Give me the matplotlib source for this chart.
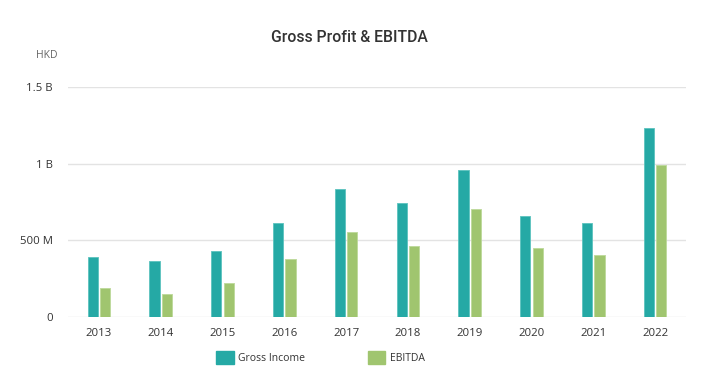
import numpy as np
import matplotlib
matplotlib.use("Agg")
import matplotlib.pyplot as plt
from matplotlib.patches import Patch
from matplotlib.ticker import FuncFormatter

years = ["2013", "2014", "2015", "2016", "2017", "2018", "2019", "2020", "2021", "2022"]
gross_income = [393e6, 367e6, 428e6, 611e6, 834e6, 745e6, 961e6, 662e6, 616e6, 1231e6]
ebitda = [192e6, 153e6, 225e6, 376e6, 557e6, 465e6, 703e6, 452e6, 404e6, 993e6]
yticks = [0, 500e6, 1000e6, 1500e6]

TEAL = "#25a9a5"
GREEN = "#a0c56f"
TEXT = "#333333"

plt.rcParams["font.family"] = ["Open Sans", "DejaVu Sans"]


def fmt_hkd(v, pos):
    if v == 0:
        return "0"
    if v >= 1e9:
        return "%g B" % (v / 1e9)
    return "%g M" % (v / 1e6)


def main():
    fig = plt.figure(figsize=(7.04, 3.81), dpi=100)
    ax = fig.add_axes([68 / 704, 1 - 317 / 381, (686 - 68) / 704, (317 - 87.3) / 381])

    x = np.arange(len(years))
    width = 0.167
    ax.bar(x - 0.1, gross_income, width, color=TEAL, edgecolor="#5cc3bf",
           linewidth=0.6, joinstyle="round", zorder=3)
    ax.bar(x + 0.1, ebitda, width, color=GREEN, edgecolor="#bcd99a",
           linewidth=0.6, joinstyle="round", zorder=3)

    ax.set_xlim(-0.5, len(years) - 0.5)
    ax.set_ylim(0, 1.5e9)
    ax.set_xticks(x, years)
    ax.set_yticks(yticks)
    ax.yaxis.set_major_formatter(FuncFormatter(fmt_hkd))
    ax.grid(axis="y", color="#e3e3e3", linewidth=1.0, zorder=0)
    ax.set_axisbelow(True)
    for s in ax.spines.values():
        s.set_visible(False)
    ax.tick_params(axis="both", length=0, labelsize=8.2, labelcolor=TEXT)
    ax.tick_params(axis="y", pad=11)
    ax.tick_params(axis="x", pad=8)

    fig.text(36 / 704, 1 - 56 / 381, "HKD", fontsize=7.5, color="#666666",
             ha="left", va="center")
    fig.text(349 / 704, 1 - 38 / 381, "Gross Profit & EBITDA", fontsize=11.3,
             color="#333333", ha="center", va="center",
             family=["Roboto", "DejaVu Sans"], weight="medium")

    handles = [Patch(facecolor=TEAL, edgecolor=TEAL, label="Gross Income"),
               Patch(facecolor=GREEN, edgecolor=GREEN, label="EBITDA")]
    fig.legend(handles=handles, loc="center left",
               bbox_to_anchor=(207 / 704, 1 - 357.5 / 381), ncol=2,
               frameon=False, fontsize=7.5, handlelength=1.65,
               handleheight=1.65, handletextpad=0.45, columnspacing=6.0,
               labelcolor=TEXT)

    fig.savefig("out.png", dpi=100)


if __name__ == '__main__':
    main()
